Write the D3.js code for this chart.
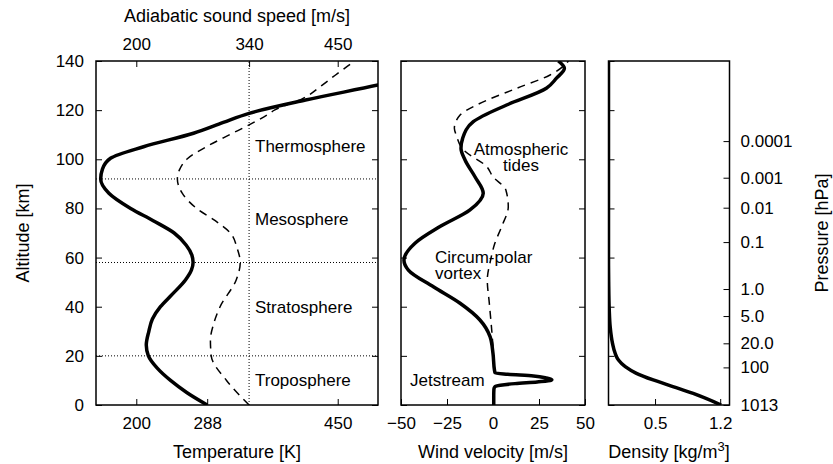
<!DOCTYPE html>
<html>
<head>
<meta charset="utf-8">
<script src="https://cdn.jsdelivr.net/npm/d3@7"></script>
<style>
  body { margin: 0; background: #fff; }
  svg { display: block; font-family: "Liberation Sans", Arial, Helvetica, sans-serif; }
  .tick text { font-size: 17px; fill: #000; }
  .tick line { stroke: #000; stroke-width: 1; }
  .title { font-size: 18px; fill: #000; }
  .note { font-size: 17px; fill: #000; }
</style>
</head>
<body>
<svg id="chart" width="833" height="464"></svg>
<script>
// temperature profile [km] -> [K]
const tempAlt = [0, 5, 10, 15, 20, 24.4, 30, 35, 40, 45, 50.9, 55, 58, 61, 65, 70, 75, 80, 86.2, 92, 96, 100.4, 105.1, 110.6, 115, 118.7, 124.1, 130.2, 135, 140];
const tempK   = [288, 263, 242.5, 226, 215, 212.4, 215.6, 220, 230, 244.5, 261, 268.5, 270.5, 269, 262, 247, 221, 193, 166, 155.8, 158, 168, 209, 271, 308, 340, 410, 500, 565, 630];

// adiabatic sound speed [km] -> [m/s], drawn on the same axis
const soundAlt = [0, 10, 20, 26.5, 33, 40, 50.9, 57.9, 64, 69.9, 75, 80, 86.2, 92, 96, 100.1, 105.3, 110.2, 114, 118, 120.1, 124.8, 130, 135, 139, 140];
const sound    = [340, 312, 293, 292, 296, 304, 324, 329, 325, 317, 298, 275, 257, 251, 254, 263, 288, 317, 340, 362, 372, 407, 430, 450, 467, 471];

// zonal wind (solid) and second wind profile (dashed) [m/s]
const windAlt = [0, 4, 6.5, 7.4, 8, 8.7, 9.4, 10, 10.3, 11, 11.8, 12.5, 13, 14.2, 21, 27.8, 34.6, 41.4, 48.1, 54.9, 59, 65.8, 72.6, 79.4, 86.2, 92.9, 99.7, 104.5, 108.5, 115.3, 122.1, 128.9, 133, 137, 140];
const wind    = [0.4, 0.4, 0.5, 1, 4, 12, 24, 31.5, 32, 29, 22, 8, 1.2, 0.8, 0, -1.6, -7.1, -17.9, -32.4, -46, -48.4, -42.4, -28.8, -12.5, -5.3, -9.8, -15.2, -17.4, -16.5, -10.7, 7.4, 29, 34.5, 38.8, 35.5];
const windDashAlt = [23.7, 30.5, 41.4, 50.9, 59, 65.8, 72.6, 80.7, 87.5, 92.9, 97, 103.8, 109.9, 112.6, 118, 122.1, 128.9, 134.3, 138.4, 140];
const windDash    = [0, -0.7, -2, -3.1, -1.3, 1, 4.7, 8.3, 7, 0, -3.4, -16, -20, -21, -17.9, -8.9, 12.9, 31, 39, 41];

// density [kg/m3]
const densAlt = [0, 4.7, 7.4, 10.2, 12.9, 15.6, 18.3, 21, 25.1, 31.9, 38.7, 50, 60, 80, 100, 120, 140];
const dens    = [1.21, 0.91, 0.70, 0.48, 0.30, 0.18, 0.107, 0.072, 0.043, 0.018, 0.008, 0.002, 0, 0, 0, 0, 0];

// pressure labels and the altitude they sit at
const pressureAlt    = [0, 15.3, 25.1, 36.2, 47.2, 66.3, 80.3, 92.5, 107.4];
const pressureLabels = ["1013", "100", "20.0", "5.0", "1.0", "0.1", "0.01", "0.001", "0.0001"];

// layer boundaries and sea level sound speed
const layerAlt = [20, 58, 92];
const refSound = 340;
const layerNames = ["Troposphere", "Stratosphere", "Mesosphere", "Thermosphere"];

const altTicks   = [0, 20, 40, 60, 80, 100, 120, 140];
const tempTicks  = [200, 288, 450];
const soundTicks = [200, 340, 450];
const windTicks  = [-50, -25, 0, 25, 50];
const densTicks  = [0.5, 1.2];

const svg = d3.select("#chart");

const y  = d3.scaleLinear().domain([0, 140]).range([405, 61]);
const xT = d3.scaleLinear().domain([150, 500]).range([96, 378]);
const xW = d3.scaleLinear().domain([-50, 50]).range([401, 585]);
const xD = d3.scaleLinear().domain([0, 1.3]).range([608.5, 729.5]);

const panels = [
    { id: "pT", x: xT },
    { id: "pW", x: xW },
    { id: "pD", x: xD }
];

const defs = svg.append("defs");
panels.forEach(p => {
    const [a, b] = p.x.range();
    defs.append("clipPath").attr("id", p.id)
        .append("rect")
        .attr("x", a).attr("y", y(140))
        .attr("width", b - a).attr("height", y(0) - y(140));
});

// dotted guide lines (temperature panel only)
const guides = svg.append("g")
    .attr("stroke", "#000")
    .attr("stroke-width", 1)
    .attr("stroke-dasharray", "1,2");

guides.selectAll(".h")
    .data(layerAlt)
    .enter()
    .append("line")
    .attr("x1", xT.range()[0]).attr("x2", xT.range()[1])
    .attr("y1", d => y(d)).attr("y2", d => y(d));

guides.append("line")
    .attr("x1", xT(refSound)).attr("x2", xT(refSound))
    .attr("y1", y(0)).attr("y2", y(140));

// profile lines, x is a function of altitude
function profile(clip, xs, alts, vals, dashed) {
    const line = d3.line()
        .x((d, i) => xs(vals[i]))
        .y(d => y(d))
        .curve(d3.curveMonotoneY);
    svg.append("path")
        .attr("clip-path", `url(#${clip})`)
        .attr("d", line(alts))
        .attr("fill", "none")
        .attr("stroke", "#000")
        .attr("stroke-width", dashed ? 1.5 : 3.5)
        .attr("stroke-dasharray", dashed ? "8,6" : null)
        .attr("stroke-linejoin", "round");
}

profile("pT", xT, soundAlt, sound, true);
profile("pT", xT, tempAlt, tempK, false);
profile("pW", xW, windDashAlt, windDash, true);
profile("pW", xW, windAlt, wind, false);
profile("pD", xD, densAlt, dens, false);

// axes: inward ticks, frame drawn separately
function axis(gen, tx, ty, values, fmt, pad) {
    const g = svg.append("g")
        .attr("transform", `translate(${tx},${ty})`)
        .call(gen.tickValues(values).tickSize(-6).tickPadding(pad).tickFormat(fmt));
    g.select(".domain").remove();
    g.selectAll("text").attr("font-family", null).attr("font-size", null);
    return g;
}
const none = () => "";

axis(d3.axisLeft(y), xT.range()[0], 0, altTicks, d3.format("d"), 12);
axis(d3.axisRight(y), xT.range()[1], 0, altTicks, none, 0);
axis(d3.axisBottom(xT), 0, y(0), tempTicks, d3.format("d"), 12.4);
axis(d3.axisTop(xT), 0, y(140), soundTicks, d3.format("d"), 11.5);

axis(d3.axisLeft(y), xW.range()[0], 0, altTicks, none, 0);
axis(d3.axisRight(y), xW.range()[1], 0, altTicks, none, 0);
axis(d3.axisBottom(xW), 0, y(0), windTicks, d3.format("d"), 12.4);

axis(d3.axisLeft(y), xD.range()[0], 0, altTicks, none, 0);
axis(d3.axisRight(y), xD.range()[1], 0, pressureAlt, (d, i) => pressureLabels[i], 11);
axis(d3.axisBottom(xD), 0, y(0), densTicks, d3.format(".1f"), 12.4);

// frames
panels.forEach(p => {
    const [a, b] = p.x.range();
    svg.append("rect")
        .attr("x", a).attr("y", y(140))
        .attr("width", b - a).attr("height", y(0) - y(140))
        .attr("fill", "none")
        .attr("stroke", "#000")
        .attr("stroke-width", 1.5);
});

// axis titles
const midT = d3.mean(xT.range());
svg.append("text").attr("class", "title")
    .attr("x", midT).attr("y", 22).attr("text-anchor", "middle")
    .text("Adiabatic sound speed [m/s]");
svg.append("text").attr("class", "title")
    .attr("x", midT).attr("y", 458).attr("text-anchor", "middle")
    .text("Temperature [K]");
svg.append("text").attr("class", "title")
    .attr("x", d3.mean(xW.range())).attr("y", 458).attr("text-anchor", "middle")
    .text("Wind velocity [m/s]");
const dl = svg.append("text").attr("class", "title")
    .attr("x", d3.mean(xD.range())).attr("y", 458).attr("text-anchor", "middle");
dl.append("tspan").text("Density [kg/m");
dl.append("tspan").attr("dy", -7).attr("font-size", 13).text("3");
dl.append("tspan").attr("dy", 7).text("]");

svg.append("text").attr("class", "title")
    .attr("transform", `translate(29,${d3.mean(y.range())}) rotate(-90)`)
    .attr("text-anchor", "middle")
    .text("Altitude [km]");
svg.append("text").attr("class", "title")
    .attr("transform", `translate(828,${d3.mean(y.range())}) rotate(-90)`)
    .attr("text-anchor", "middle")
    .text("Pressure [hPa]");

// layer names
const layerLabelAlt = [7.7, 37.5, 73.4, 103.1];
svg.selectAll(".layer")
    .data(layerNames)
    .enter()
    .append("text")
    .attr("class", "note")
    .attr("x", 255)
    .attr("y", (d, i) => y(layerLabelAlt[i]))
    .text(d => d);

// wind annotations
function note(x, alt, lines, anchor) {
    const t = svg.append("text").attr("class", "note")
        .attr("text-anchor", anchor)
        .attr("x", x).attr("y", y(alt));
    lines.forEach((s, i) => {
        t.append("tspan").attr("x", x).attr("dy", i ? 16 : 0).text(s);
    });
}
note(521, 101.6, ["Atmospheric", "tides"], "middle");
note(435, 57.8, ["Circum-polar", "vortex"], "start");
note(410, 7.7, ["Jetstream"], "start");
</script>
</body>
</html>
